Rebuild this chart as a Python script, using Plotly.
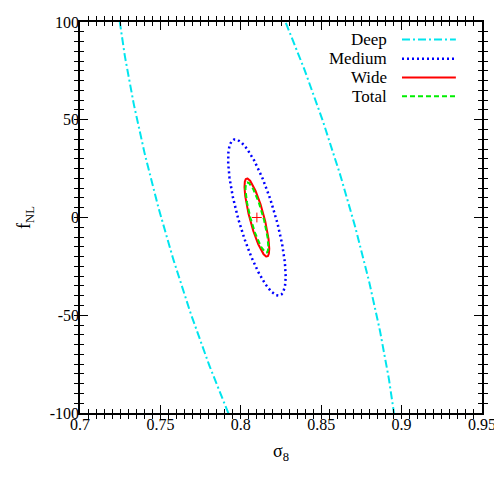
import numpy as np
import plotly.graph_objects as go

# Fisher forecast constraints (centre, half-widths of the contour, correlation)
surveys = ["Deep", "Medium", "Wide", "Total"]
sigma8_center = 0.81
fnl_center = 0.0
sigma8_halfwidth = [0.090, 0.0179, 0.0077, 0.0071]
fnl_halfwidth = [200.0, 40.0, 20.0, 18.0]
correlation = [-0.75, -0.75, -0.80, -0.82]

colors = ["#00e5ee", "#0000ff", "#ff0000", "#00ee00"]
dashes = ["8px,3px,2px,3px", "2px,3px", "solid", "5px,3px"]
widths = [2, 2.5, 2, 2]

x_ticks = [0.7, 0.75, 0.8, 0.85, 0.9, 0.95]
x_ticklabels = ["0.7", "0.75", "0.8", "0.85", "0.9", "0.95"]
y_ticks = [-100, -50, 0, 50, 100]
y_ticklabels = ["-100", "-50", "0", "50", "100"]
x_range = [0.7, 0.95]
y_range = [-100, 100]
x_minor_step = 0.005
y_minor_step = 5

FONT = "Liberation Serif, Times New Roman, serif"

# overlaid axes share identical ranges; each needs a trace to be drawn
trace_xaxis = ["x", "x", "x2", "x3"]
trace_yaxis = ["y", "y", "y", "y3"]

fig = go.Figure()
t = np.linspace(0, 2 * np.pi, 721)
for name, dx, dy, rho, c, d, w, xa, ya in zip(surveys, sigma8_halfwidth, fnl_halfwidth,
                                              correlation, colors, dashes, widths,
                                              trace_xaxis, trace_yaxis):
    xs = sigma8_center + dx * np.cos(t)
    ys = fnl_center + dy * (rho * np.cos(t) + np.sqrt(1 - rho ** 2) * np.sin(t))
    fig.add_trace(go.Scatter(x=xs, y=ys, mode="lines", name=name, xaxis=xa, yaxis=ya,
                             line=dict(color=c, dash=d, width=w),
                             showlegend=False, hoverinfo="skip"))

# fiducial point
fig.add_trace(go.Scatter(x=[sigma8_center], y=[fnl_center], mode="markers",
                         xaxis="x", yaxis="y2",
                         marker=dict(symbol="cross-thin", size=7,
                                     line=dict(color="#ff0000", width=1)),
                         showlegend=False, hoverinfo="skip"))

# gnuplot-style key: text right-aligned, sample to the right
key_y = [0.955, 0.906, 0.858, 0.810]
annotations = []
shapes = []
for name, c, d, w, yk in zip(surveys, colors, dashes, widths, key_y):
    annotations.append(dict(x=0.769, y=yk, xref="paper", yref="paper", text=name,
                            showarrow=False, xanchor="right", yanchor="middle",
                            font=dict(family=FONT, size=17, color="black")))
    shapes.append(dict(type="line", xref="paper", yref="paper",
                       x0=0.801, x1=0.935, y0=yk, y1=yk,
                       line=dict(color=c, dash=d, width=w)))

x_minor_vals = list(np.round(np.arange(x_range[0], x_range[1] + 1e-9, x_minor_step), 4))
y_minor_vals = list(np.arange(y_range[0], y_range[1] + 1, y_minor_step))

labelfont = dict(family=FONT, size=16, color="black")
tick_axis = dict(tickmode="array", showticklabels=False, showline=True,
                 linecolor="black", linewidth=2, mirror="allticks", ticks="inside",
                 tickwidth=1, tickcolor="black", showgrid=False, zeroline=False)
label_axis = dict(tickmode="array", ticks="", showline=False, showgrid=False,
                  zeroline=False, tickfont=labelfont, ticklabeloverflow="allow")

fig.update_layout(
    width=494, height=470,
    margin=dict(l=72, r=20, t=6, b=65),
    plot_bgcolor="white", paper_bgcolor="white",
    annotations=annotations, shapes=shapes,
    # minor ticks (no labels)
    xaxis=dict(range=x_range, tickvals=x_minor_vals, ticklen=4, **tick_axis),
    yaxis=dict(range=y_range, tickvals=y_minor_vals, ticklen=4, **tick_axis),
    # major ticks (no labels)
    xaxis2=dict(range=x_range, tickvals=x_ticks, ticklen=8,
                overlaying="x", anchor="y", side="bottom", **tick_axis),
    yaxis2=dict(range=y_range, tickvals=y_ticks, ticklen=8,
                overlaying="y", anchor="x", side="left", **tick_axis),
    # tick labels and titles (no tick marks)
    xaxis3=dict(range=x_range, tickvals=x_ticks, ticktext=x_ticklabels,
                overlaying="x", anchor="y", side="bottom",
                title=dict(text="σ<sub>8</sub>", font=dict(family=FONT, size=18, color="black"),
                           standoff=12),
                **label_axis),
    yaxis3=dict(range=y_range, tickvals=y_ticks, ticktext=y_ticklabels,
                overlaying="y", anchor="x", side="left",
                title=dict(text="f<sub>NL</sub>", font=dict(family=FONT, size=18, color="black"),
                           standoff=14),
                **label_axis),
    showlegend=False,
)

fig.write_html("out.html")
